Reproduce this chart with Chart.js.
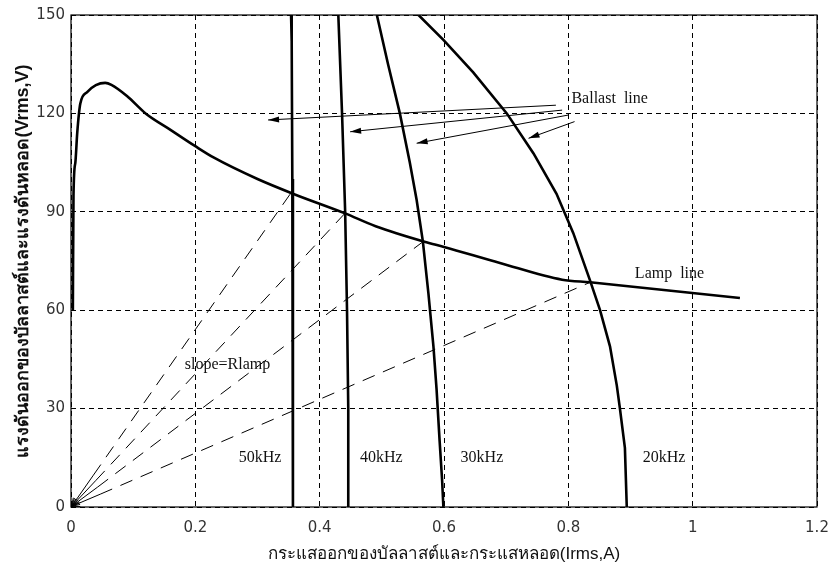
<!DOCTYPE html>
<html>
<head>
<meta charset="utf-8">
<script src="https://cdn.jsdelivr.net/npm/chart.js@4.4.1/dist/chart.umd.min.js"></script>
<style>
  html, body { margin: 0; padding: 0; background: #fff; }
  #wrap { width: 829px; height: 567px; position: relative; }
</style>
</head>
<body>
<div id="wrap"><canvas id="chart"></canvas></div>
<script>
// ===== Data =====
const xTicks = [0, 0.2, 0.4, 0.6, 0.8, 1, 1.2];
const yTicks = [0, 30, 60, 90, 120, 150];

// lamp characteristic
const lampX = [0.003, 0.004, 0.007, 0.010, 0.015, 0.026, 0.040, 0.055, 0.065, 0.090, 0.120, 0.160, 0.200, 0.230, 0.300, 0.360, 0.440, 0.490, 0.570, 0.600, 0.690, 0.790, 0.835, 1.076];
const lampY = [60, 95, 105, 114, 123, 126.5, 128.6, 129.3, 128.7, 125.3, 120, 115, 110, 106.5, 100, 95.3, 89.6, 85.6, 80.8, 79.3, 74.4, 69.3, 68.5, 63.7];

// ballast lines (50, 40, 30, 20 kHz)
const b50X = [0.354, 0.355, 0.356, 0.357, 0.357];
const b50Y = [150, 142, 100, 50, 0];
const b40X = [0.430, 0.436, 0.441, 0.444, 0.446, 0.446];
const b40Y = [150, 120, 90, 60, 30, 0];
const b30X = [0.492, 0.510, 0.529, 0.545, 0.556, 0.566, 0.575, 0.583, 0.588, 0.593, 0.597, 0.599];
const b30Y = [150, 135, 120, 105, 93.6, 81, 65, 49, 36, 20, 8, 0];
const b20X = [0.559, 0.599, 0.647, 0.701, 0.744, 0.781, 0.808, 0.835, 0.851, 0.867, 0.878, 0.883, 0.891, 0.894];
const b20Y = [150, 142.4, 132.5, 120, 107.8, 95.5, 83.5, 69, 60, 49, 37, 30, 18, 0];

// slope (R lamp) lines from origin to operating points
const slopeStartX = [0.036, 0.040, 0.043, 0.047];
const slopeStartY = [9.7, 8.1, 6.1, 3.9];
const slopeEndX = [0.354, 0.441, 0.567, 0.835];
const slopeEndY = [95.8, 89.6, 81, 68.5];

// "Ballast line" pointer arrows
const arrowFromX = [0.780, 0.790, 0.800, 0.810];
const arrowFromY = [122.5, 121, 119.5, 117.5];
const arrowToX = [0.317, 0.449, 0.556, 0.736];
const arrowToY = [118, 114.4, 110.9, 112.4];

const freqLabels = ['50kHz', '40kHz', '30kHz', '20kHz'];
const freqLabelX = [0.304, 0.499, 0.661, 0.954];
const labelY = 15;

// ===== Helpers =====
function pts(xs, ys) {
  return xs.map((x, i) => ({ x, y: ys[i] }));
}

const SERIF = '"Liberation Serif", "DejaVu Serif", serif';
const thick = (data, extra) => Object.assign({ data, borderColor: '#000', borderWidth: 2.6, pointRadius: 0, showLine: true, tension: 0, fill: false }, extra);
const thin = (data, extra) => Object.assign({ data, borderColor: '#000', borderWidth: 1, pointRadius: 0, showLine: true, fill: false }, extra);

const datasets = [
  thick(pts(lampX, lampY), { cubicInterpolationMode: 'monotone' }),
  thick(pts(b50X, b50Y)),
  thick(pts(b40X, b40Y)),
  thick(pts(b30X, b30Y)),
  thick(pts(b20X, b20Y))
];

slopeEndX.forEach((_, i) => {
  datasets.push(thin(pts([slopeStartX[i], slopeEndX[i]], [slopeStartY[i], slopeEndY[i]]), { borderDash: [13, 9] }));
  datasets.push(thin(pts([slopeStartX[i], 0.001], [slopeStartY[i], 0.2]), { arrowHead: 'open' }));
});

arrowFromX.forEach((_, i) => {
  datasets.push(thin(pts([arrowFromX[i], arrowToX[i]], [arrowFromY[i], arrowToY[i]]), { arrowHead: 'filled' }));
});

// ===== Plugins =====
const frameAndArrows = {
  id: 'frameAndArrows',
  afterDatasetsDraw(chart) {
    const { ctx, chartArea: a } = chart;
    ctx.save();
    chart.data.datasets.forEach((ds, i) => {
      if (!ds.arrowHead) return;
      const p = chart.getDatasetMeta(i).data;
      const p0 = p[p.length - 2], p1 = p[p.length - 1];
      const ang = Math.atan2(p1.y - p0.y, p1.x - p0.x);
      const open = ds.arrowHead === 'open';
      const len = open ? 8 : 11, w = open ? 3.5 : 3;
      const ax = p1.x - len * Math.cos(ang), ay = p1.y - len * Math.sin(ang);
      ctx.beginPath();
      ctx.moveTo(ax + w * Math.sin(ang), ay - w * Math.cos(ang));
      ctx.lineTo(p1.x, p1.y);
      ctx.lineTo(ax - w * Math.sin(ang), ay + w * Math.cos(ang));
      if (open) {
        ctx.strokeStyle = '#000';
        ctx.lineWidth = 1;
        ctx.stroke();
      } else {
        ctx.closePath();
        ctx.fillStyle = '#000';
        ctx.fill();
      }
    });
    ctx.strokeStyle = '#000';
    ctx.lineWidth = 1.2;
    ctx.strokeRect(a.left, a.top, a.right - a.left, a.bottom - a.top);

    // text annotations
    const xs = chart.scales.x, ys = chart.scales.y;
    ctx.fillStyle = '#111';
    ctx.font = '16px ' + SERIF;
    ctx.textBaseline = 'middle';
    ctx.textAlign = 'center';
    freqLabels.forEach((t, i) => ctx.fillText(t, xs.getPixelForValue(freqLabelX[i]), ys.getPixelForValue(labelY)));
    ctx.textAlign = 'left';
    ctx.fillText('Ballast  line', xs.getPixelForValue(0.805), ys.getPixelForValue(124.6));
    ctx.fillText('Lamp  line', xs.getPixelForValue(0.907), ys.getPixelForValue(71));
    ctx.fillText('slope=Rlamp', xs.getPixelForValue(0.183), ys.getPixelForValue(43.5));
    ctx.restore();
  }
};

// ===== Chart =====
new Chart(document.getElementById('chart'), {
  type: 'scatter',
  data: { datasets },
  options: {
    responsive: true,
    maintainAspectRatio: false,
    animation: false,
    layout: { padding: { left: 0, right: 12, top: 15, bottom: 0 } },
    plugins: { legend: { display: false }, tooltip: { enabled: false } },
    scales: {
      x: {
        type: 'linear', min: 0, max: 1.2,
        afterBuildTicks: s => { s.ticks = xTicks.map(v => ({ value: v })); },
        afterFit: s => { s.height = 60; s.paddingLeft = 0; s.paddingRight = 0; },
        grid: { color: '#000', lineWidth: 1, drawTicks: false },
        border: { display: false, dash: [5, 4] },
        ticks: { color: '#333', font: { family: '"DejaVu Sans", sans-serif', size: 15 }, padding: 12, maxRotation: 0, callback: v => String(v) },
        title: { display: true, text: 'กระแสออกของบัลลาสต์และกระแสหลอด(Irms,A)', color: '#111', font: { size: 17 }, padding: { top: 0, bottom: 2 } }
      },
      y: {
        type: 'linear', min: 0, max: 150,
        afterBuildTicks: s => { s.ticks = yTicks.map(v => ({ value: v })); },
        afterFit: s => { s.width = 71; s.paddingTop = 0; s.paddingBottom = 0; },
        grid: { color: '#000', lineWidth: 1, drawTicks: false },
        border: { display: false, dash: [5, 4] },
        ticks: { color: '#333', font: { family: '"DejaVu Sans", sans-serif', size: 15 }, padding: 6, callback: v => String(v) },
        title: { display: true, text: 'แรงดันออกของบัลลาสต์และแรงดันหลอด(Vrms,V)', color: '#111', font: { size: 18, weight: 'bold' }, padding: { top: 12, bottom: 0 } }
      }
    }
  },
  plugins: [frameAndArrows]
});
</script>
</body>
</html>
